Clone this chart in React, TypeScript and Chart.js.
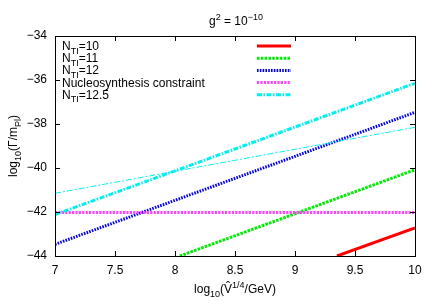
import React, { useEffect, useRef } from "react";
import { Chart, registerables } from "chart.js";

Chart.register(...registerables);

// ---- data ----
const xTickValues = [7, 7.5, 8, 8.5, 9, 9.5, 10];
const yTickValues = [-44, -42, -40, -38, -36, -34];

const n10X = [9.35, 10];
const n10Y = [-44, -42.72];
const n11X = [8.04, 10];
const n11Y = [-44, -40.08];
const n12X = [7, 10];
const n12Y = [-43.47, -37.47];
const nucX = [7, 10];
const nucY = [-42.02, -42.02];
const n125X = [7, 10];
const n125Y = [-42.12, -36.15];
const n125bX = [7, 10];
const n125bY = [-41.15, -38.15];

const seriesLabels = ["N_{TI}=10", "N_{TI}=11", "N_{TI}=12", "Nucleosynthesis constraint", "N_{TI}=12.5", ""];
const titleText = "g^{2} = 10^{\u221210}";
const xTitle = "log_{10}(V\u0302^{1/4}/GeV)";
const yTitle = "log_{10}(\u0393/m_{Pl})";

const FONT = "'Liberation Sans', Arial, sans-serif";

type Seg = { t: string; k: "n" | "sub" | "sup" };

function parseRich(s: string): Seg[] {
  const out: Seg[] = [];
  let i = 0;
  let buf = "";
  while (i < s.length) {
    const c = s[i];
    if ((c === "_" || c === "^") && s[i + 1] === "{") {
      if (buf) { out.push({ t: buf, k: "n" }); buf = ""; }
      const end = s.indexOf("}", i);
      out.push({ t: s.slice(i + 2, end), k: c === "_" ? "sub" : "sup" });
      i = end + 1;
    } else {
      buf += c;
      i++;
    }
  }
  if (buf) out.push({ t: buf, k: "n" });
  return out;
}

function setFont(ctx: CanvasRenderingContext2D, k: string) {
  ctx.font = (k === "n" ? 12 : 9) + "px " + FONT;
}

function richWidth(ctx: CanvasRenderingContext2D, s: string) {
  let w = 0;
  for (const seg of parseRich(s)) {
    setFont(ctx, seg.k);
    w += ctx.measureText(seg.t).width;
  }
  return w;
}

function drawRich(ctx: CanvasRenderingContext2D, s: string, x: number, y: number) {
  let cx = x;
  ctx.textBaseline = "alphabetic";
  ctx.textAlign = "left";
  for (const seg of parseRich(s)) {
    setFont(ctx, seg.k);
    const dy = seg.k === "sub" ? 3.5 : seg.k === "sup" ? -5 : 0;
    ctx.fillText(seg.t, cx, y + dy);
    cx += ctx.measureText(seg.t).width;
  }
}

function toPoints(xs: number[], ys: number[]) {
  return xs.map((x, i) => ({ x, y: ys[i] }));
}

const overlayPlugin = {
  id: "overlay",
  afterDraw(chart: any) {
    const ctx: CanvasRenderingContext2D = chart.ctx;
    const { left, right, top, bottom } = chart.chartArea;
    const xs = chart.scales.x;
    const ys = chart.scales.y;
    ctx.save();
    ctx.strokeStyle = "#000";
    ctx.lineWidth = 1;
    ctx.setLineDash([]);
    ctx.beginPath();
    for (const t of xs.ticks) {
      const px = Math.round(xs.getPixelForValue(t.value)) + 0.5;
      ctx.moveTo(px, bottom);
      ctx.lineTo(px, bottom - 5);
      ctx.moveTo(px, top);
      ctx.lineTo(px, top + 5);
    }
    for (const t of ys.ticks) {
      const py = Math.round(ys.getPixelForValue(t.value)) + 0.5;
      ctx.moveTo(left, py);
      ctx.lineTo(left + 5, py);
      ctx.moveTo(right, py);
      ctx.lineTo(right - 5, py);
    }
    ctx.stroke();
    ctx.strokeRect(Math.round(left) + 0.5, Math.round(top) + 0.5, Math.round(right - left), Math.round(bottom - top));

    ctx.fillStyle = "#000";
    const cxm = (left + right) / 2;
    const tw = richWidth(ctx, titleText);
    drawRich(ctx, titleText, cxm - tw / 2 + 1, 25);
    const xw = richWidth(ctx, xTitle);
    drawRich(ctx, xTitle, cxm - xw / 2, 293);
    ctx.save();
    ctx.translate(17, (top + bottom) / 2);
    ctx.rotate(-Math.PI / 2);
    const yw = richWidth(ctx, yTitle);
    drawRich(ctx, yTitle, -yw / 2, 0);
    ctx.restore();

    let row = 0;
    chart.data.datasets.forEach((ds: any) => {
      if (!ds.label) return;
      const yc = 46 + row * 12.2;
      ctx.fillStyle = "#000";
      drawRich(ctx, ds.label, 62, yc + 4);
      ctx.beginPath();
      ctx.strokeStyle = ds.borderColor;
      ctx.lineWidth = ds.borderWidth;
      ctx.setLineDash(ds.borderDash || []);
      ctx.lineCap = "butt";
      ctx.moveTo(257, yc);
      ctx.lineTo(291, yc);
      ctx.stroke();
      row++;
    });
    ctx.restore();
  },
};

export default function App() {
  const ref = useRef<HTMLCanvasElement>(null);
  useEffect(() => {
    if (!ref.current) return;
    const specs = [
      { x: n10X, y: n10Y, color: "#ff0000", width: 3, dash: [] as number[] },
      { x: n11X, y: n11Y, color: "#00ee00", width: 3, dash: [2.6, 1.2] },
      { x: n12X, y: n12Y, color: "#0000ff", width: 3, dash: [1.6, 1.2] },
      { x: nucX, y: nucY, color: "#ff44ff", width: 3, dash: [2.2, 1.2] },
      { x: n125X, y: n125Y, color: "#00f0f0", width: 3, dash: [5, 1.5, 1.5, 1.5] },
      { x: n125bX, y: n125bY, color: "#00f0f0", width: 1, dash: [6, 2, 2, 2] },
    ];
    const datasets = specs.map((s, i) => ({
      label: seriesLabels[i],
      data: toPoints(s.x, s.y),
      borderColor: s.color,
      backgroundColor: s.color,
      borderWidth: s.width,
      borderDash: s.dash,
      borderCapStyle: "butt" as const,
      pointRadius: 0,
      tension: 0,
      fill: false,
      order: specs.length - i,
    }));
    const chart = new Chart(ref.current, {
      type: "line",
      data: { datasets },
      options: {
        animation: false,
        responsive: false,
        devicePixelRatio: 1,
        layout: { padding: { left: 0, top: 36, right: 21, bottom: 0 } },
        plugins: { legend: { display: false }, tooltip: { enabled: false }, title: { display: false } },
        scales: {
          x: {
            type: "linear",
            min: 7,
            max: 10,
            afterBuildTicks: (scale: any) => {
              scale.ticks = xTickValues.map((v) => ({ value: v }));
            },
            afterFit: (scale: any) => {
              scale.height = 49;
            },
            grid: { display: false, drawTicks: false },
            border: { display: false },
            ticks: {
              padding: 7,
              color: "#000",
              font: { family: FONT, size: 12 },
              maxRotation: 0,
              autoSkip: false,
              callback: (v: any) => String(v),
            },
          },
          y: {
            type: "linear",
            min: -44,
            max: -34,
            afterBuildTicks: (scale: any) => {
              scale.ticks = yTickValues.map((v) => ({ value: v }));
            },
            afterFit: (scale: any) => {
              scale.width = 55;
            },
            grid: { display: false, drawTicks: false },
            border: { display: false },
            ticks: {
              padding: 8,
              color: "#000",
              font: { family: FONT, size: 12 },
              autoSkip: false,
              callback: (v: any) => String(v).replace("-", "\u2212"),
            },
          },
        },
      },
      plugins: [overlayPlugin],
    });
    return () => chart.destroy();
  }, []);
  return (
    <div style={{ position: "absolute", left: 0, top: 0, width: 436, height: 305, background: "#fff" }}>
      <canvas ref={ref} width={436} height={305} />
    </div>
  );
}
